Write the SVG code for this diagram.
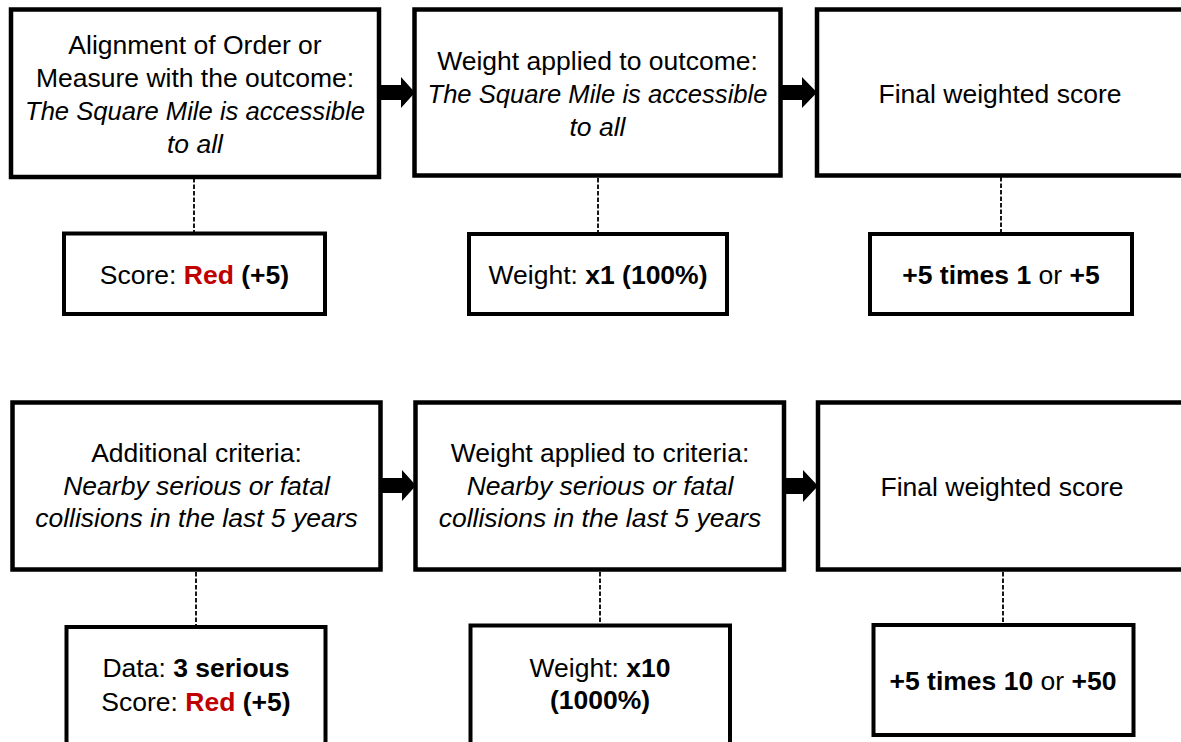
<svg xmlns="http://www.w3.org/2000/svg" width="1181" height="742" viewBox="0 0 1181 742">
<style>
  .box { fill: #ffffff; stroke: #000000; stroke-width: 4.5; }
  .sbox { fill: #ffffff; stroke: #000000; stroke-width: 4; }
  .t { font-family: "Liberation Sans", Arial, sans-serif; font-size: 26.5px; fill: #000000; text-anchor: middle; }
  .i { font-style: italic; }
  .sq { font-size: 25.6px; }
  .b { font-weight: bold; }
  .red { fill: #C00000; font-weight: bold; }
  .dash { stroke: #000000; stroke-width: 1.8; stroke-dasharray: 4.5 2; fill: none; }
  .arrow { fill: #000000; stroke: none; }
</style>
<rect x="0" y="0" width="1181" height="742" fill="#ffffff"/>

<g id="connectors">
  <line class="dash" x1="194" y1="178" x2="194" y2="232"/>
  <line class="dash" x1="598" y1="178" x2="598" y2="232"/>
  <line class="dash" x1="1001" y1="177" x2="1001" y2="232"/>
  <line class="dash" x1="196" y1="572" x2="196" y2="625"/>
  <line class="dash" x1="600" y1="572" x2="600" y2="624"/>
  <line class="dash" x1="1003" y1="572" x2="1003" y2="623"/>
  <polygon class="arrow" points="379,85 401,85 401,77 415,92.5 401,108 401,100 379,100"/>
  <polygon class="arrow" points="780,85 802,85 802,77 817,92.5 802,108 802,100 780,100"/>
  <polygon class="arrow" points="380,478 402,478 402,470 416,485.5 402,501 402,493 380,493"/>
  <polygon class="arrow" points="782,478 803,478 803,470 818,486 803,502 803,494 782,494"/>
</g>

<g id="node-alignment">
  <rect class="box" x="11" y="9.5" width="368" height="167.5"/>
  <text class="t" x="195" y="53.5">Alignment of Order or</text>
  <text class="t" x="195" y="86.5">Measure with the outcome:</text>
  <text class="t i sq" x="195" y="119.5">The Square Mile is accessible</text>
  <text class="t i" x="195" y="152.5">to all</text>
</g>

<g id="node-weight-outcome">
  <rect class="box" x="414.5" y="9.5" width="366" height="166"/>
  <text class="t" x="597.5" y="70">Weight applied to outcome:</text>
  <text class="t i sq" x="597.5" y="103">The Square Mile is accessible</text>
  <text class="t i" x="597.5" y="136">to all</text>
</g>

<g id="node-final-1">
  <rect class="box" x="817" y="9.5" width="368" height="166"/>
  <text class="t" x="1000" y="103">Final weighted score</text>
</g>

<g id="node-score-1">
  <rect class="sbox" x="64" y="233.5" width="261" height="80.5"/>
  <text class="t" x="194.5" y="284">Score: <tspan class="red">Red</tspan> <tspan class="b">(+5)</tspan></text>
</g>

<g id="node-weight-1">
  <rect class="sbox" x="469" y="234" width="258" height="80"/>
  <text class="t" x="598" y="284">Weight: <tspan class="b">x1 (100%)</tspan></text>
</g>

<g id="node-result-1">
  <rect class="sbox" x="870" y="234" width="262" height="80"/>
  <text class="t" x="1001" y="284"><tspan class="b">+5 times 1</tspan> or <tspan class="b">+5</tspan></text>
</g>

<g id="node-additional">
  <rect class="box" x="12.5" y="402.5" width="368" height="167"/>
  <text class="t" x="196.5" y="462">Additional criteria:</text>
  <text class="t i" x="196.5" y="494.5">Nearby serious or fatal</text>
  <text class="t i" x="196.5" y="527">collisions in the last 5 years</text>
</g>

<g id="node-weight-criteria">
  <rect class="box" x="415.5" y="402.5" width="368.5" height="167"/>
  <text class="t" x="600" y="462">Weight applied to criteria:</text>
  <text class="t i" x="600" y="494.5">Nearby serious or fatal</text>
  <text class="t i" x="600" y="527">collisions in the last 5 years</text>
</g>

<g id="node-final-2">
  <rect class="box" x="818" y="402.5" width="368" height="167"/>
  <text class="t" x="1002" y="496">Final weighted score</text>
</g>

<g id="node-data">
  <rect class="sbox" x="66.5" y="627" width="259" height="140"/>
  <text class="t" x="196" y="677">Data: <tspan class="b">3 serious</tspan></text>
  <text class="t" x="196" y="711">Score: <tspan class="red">Red</tspan> <tspan class="b">(+5)</tspan></text>
</g>

<g id="node-weight-2">
  <rect class="sbox" x="470.5" y="625.5" width="259.5" height="140"/>
  <text class="t" x="600" y="677">Weight: <tspan class="b">x10</tspan></text>
  <text class="t b" x="600" y="709">(1000%)</text>
</g>

<g id="node-result-2">
  <rect class="sbox" x="873.5" y="625" width="260" height="110"/>
  <text class="t" x="1003" y="690"><tspan class="b">+5 times 10</tspan> or <tspan class="b">+50</tspan></text>
</g>
</svg>
